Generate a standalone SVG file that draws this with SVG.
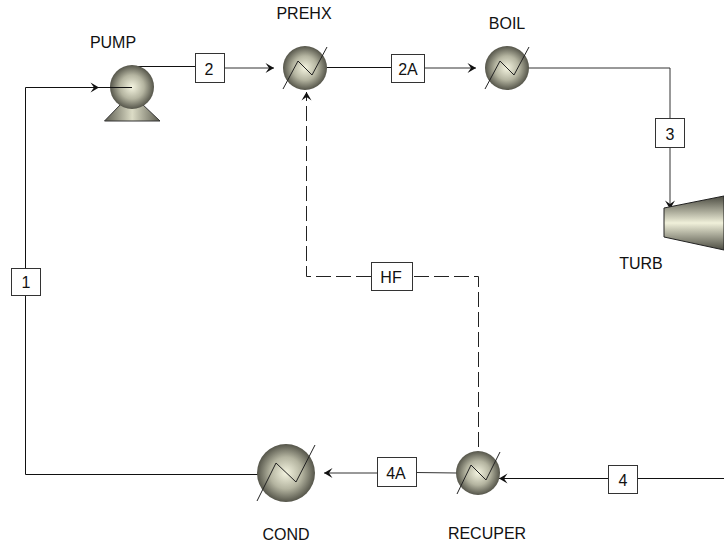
<svg xmlns="http://www.w3.org/2000/svg" width="724" height="548" viewBox="0 0 724 548">
<style>
text{font-family:"Liberation Sans",Arial,sans-serif;font-size:16px;fill:#111;text-anchor:middle}
.c{fill:none;stroke:#111;stroke-width:1}
.g{stroke:#333}
.d{stroke:#222;stroke-dasharray:15 5}
.s{fill:url(#sph)}
.z{fill:none;stroke:#222;stroke-width:1}
.b{fill:#fff;stroke:#333;stroke-width:1}
</style>
<defs>
<radialGradient id="sph" cx="50%" cy="50%" r="50%"><stop offset="0" stop-color="#f4f4e0"/><stop offset="0.55" stop-color="#b4b4a0"/><stop offset="1" stop-color="#55554a"/></radialGradient>
<linearGradient id="tur" x1="0" y1="0" x2="0" y2="1"><stop offset="0" stop-color="#4c4c42"/><stop offset="0.5" stop-color="#f0f0da"/><stop offset="1" stop-color="#4c4c42"/></linearGradient>
<linearGradient id="base" x1="0" y1="0" x2="1" y2="0"><stop offset="0" stop-color="#5c5c50"/><stop offset="0.5" stop-color="#dcdcc6"/><stop offset="1" stop-color="#5c5c50"/></linearGradient>
<marker id="a" markerUnits="userSpaceOnUse" markerWidth="12" markerHeight="12" refX="9" refY="5.500" orient="auto"><path d="M0.500 0.500L9 5.500L0.500 10.500L4 5.500Z" fill="#111"/></marker>
</defs>
<g id="connectors">
<path class="c" d="M25.500 268V87.500H99" marker-end="url(#a)"/>
<path class="c" d="M99 87.500H132"/>
<path class="c" d="M25.500 296V474.500H258"/>
<path class="c" d="M138 66.500H195"/>
<path class="c g" d="M224 68H274" marker-end="url(#a)"/>
<path class="c" d="M327 67.500H391"/>
<path class="c g" d="M424 68H476" marker-end="url(#a)"/>
<path class="c g" d="M529 68H670V118"/>
<path class="c g" d="M670 148V209" marker-end="url(#a)"/>
<path class="c d" d="M478.500 447V276.500H412"/>
<path class="c d" d="M371 276.500H306.500V92" marker-end="url(#a)"/>
<path class="c" d="M724 478.500H637"/>
<path class="c" d="M609 478.500H499" marker-end="url(#a)"/>
<path class="c g" d="M457 473L416 472.500"/>
<path class="c g" d="M377 473H324" marker-end="url(#a)"/>
</g>
<g id="PUMP">
<path d="M104.500 121L122 103H141L160 121Z" fill="url(#base)" stroke="#333" stroke-width="1"/>
<circle class="s" cx="132" cy="87" r="22"/>
<path class="c" d="M110 87.500H132"/>
<text x="113" y="48">PUMP</text>
</g>
<g id="PREHX">
<circle class="s" cx="305" cy="68" r="22"/>
<path class="z" d="M283 89L298 61L312 75L327 47"/>
<text x="304" y="19">PREHX</text>
</g>
<g id="BOIL">
<circle class="s" cx="507" cy="68" r="22"/>
<path class="z" d="M485 89L500 61L514 75L529 47"/>
<text x="507" y="29">BOIL</text>
</g>
<g id="TURB">
<path d="M664 208L724 196V250L664 237Z" fill="url(#tur)" stroke="#222" stroke-width="1"/>
<text x="641" y="269">TURB</text>
</g>
<g id="COND">
<circle class="s" cx="286" cy="473" r="29"/>
<path class="z" d="M257 501L276 463L296 482L315 445"/>
<text x="286" y="540">COND</text>
</g>
<g id="RECUPER">
<circle class="s" cx="478" cy="473" r="22"/>
<path class="z" d="M457 494L471 465L486 480L500 452"/>
<text x="487" y="539">RECUPER</text>
</g>
<g id="s1"><rect class="b" x="11.500" y="268.500" width="29" height="27"/><text x="26" y="288">1</text></g>
<g id="s2"><rect class="b" x="195.500" y="53.500" width="29" height="29"/><text x="209" y="75">2</text></g>
<g id="s2A"><rect class="b" x="391.500" y="54.500" width="33" height="28"/><text x="408" y="75">2A</text></g>
<g id="s3"><rect class="b" x="655.500" y="118.500" width="29" height="29"/><text x="670" y="140">3</text></g>
<g id="sHF"><rect class="b" x="371.500" y="262.500" width="41" height="28"/><text x="391" y="283">HF</text></g>
<g id="s4A"><rect class="b" x="377.500" y="457.500" width="39" height="29"/><text x="396" y="479">4A</text></g>
<g id="s4"><rect class="b" x="608.500" y="465.500" width="29" height="28"/><text x="623" y="486">4</text></g>
</svg>
